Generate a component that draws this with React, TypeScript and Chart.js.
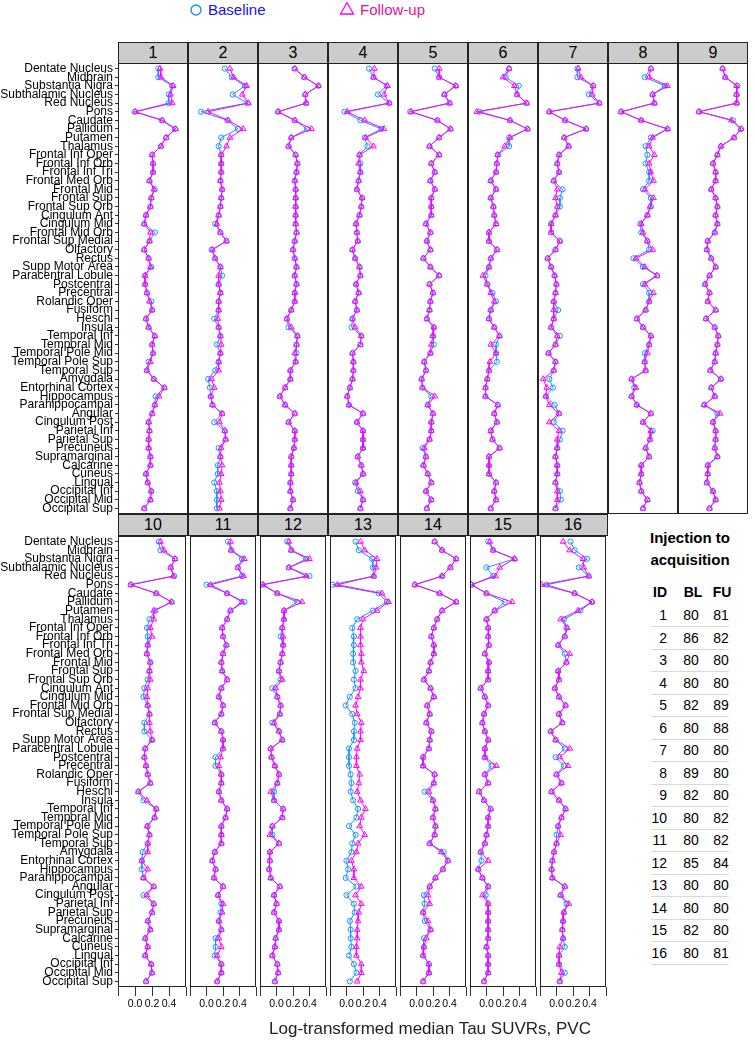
import React, { useEffect, useRef } from 'react';
import { Chart, registerables } from 'chart.js';
Chart.register(...registerables);

const regions = [
  'Dentate Nucleus', 'Midbrain', 'Substantia Nigra', 'Subthalamic Nucleus', 'Red Nucleus', 'Pons', 'Caudate',
  'Pallidum', 'Putamen', 'Thalamus', 'Frontal Inf Oper', 'Frontal Inf Orb', 'Frontal Inf Tri', 'Frontal Med Orb',
  'Frontal Mid', 'Frontal Sup', 'Frontal Sup Orb', 'Cingulum Ant', 'Cingulum Mid', 'Frontal Mid Orb',
  'Frontal Sup Medial', 'Olfactory', 'Rectus', 'Supp Motor Area', 'Paracentral Lobule', 'Postcentral',
  'Precentral', 'Rolandic Oper', 'Fusiform', 'Heschl', 'Insula', 'Temporal Inf', 'Temporal Mid',
  'Temporal Pole Mid', 'Temporal Pole Sup', 'Temporal Sup', 'Amygdala', 'Entorhinal Cortex', 'Hippocampus',
  'Parahippocampal', 'Angular', 'Cingulum Post', 'Parietal Inf', 'Parietal Sup', 'Precuneus', 'Supramarginal',
  'Calcarine', 'Cuneus', 'Lingual', 'Occipital Inf', 'Occipital Mid', 'Occipital Sup',
];

const panelIds = ['1', '2', '3', '4', '5', '6', '7', '8', '9', '10', '11', '12', '13', '14', '15', '16'];

const baseline1 = [0.26,0.26,0.42,0.38,0.38,-0.01,0.30,0.45,0.35,0.29, 0.19,0.20,0.20,0.16,0.22,0.18,0.17,0.12,0.10,0.22, 0.16,0.10,0.15,0.18,0.11,0.11,0.13,0.18,0.19,0.12, 0.15,0.22,0.19,0.20,0.15,0.13,0.21,0.33,0.23,0.22, 0.19,0.15,0.16,0.15,0.15,0.17,0.17,0.12,0.14,0.18, 0.17,0.10];
const followup1 = [0.28,0.29,0.43,0.40,0.42,0.00,0.31,0.46,0.35,0.29, 0.19,0.20,0.20,0.16,0.21,0.18,0.17,0.12,0.10,0.17, 0.16,0.10,0.15,0.17,0.11,0.11,0.13,0.16,0.19,0.12, 0.15,0.22,0.19,0.20,0.17,0.13,0.21,0.33,0.27,0.22, 0.19,0.15,0.16,0.15,0.15,0.17,0.17,0.12,0.14,0.18, 0.17,0.10];
const baseline2 = [0.22,0.30,0.45,0.31,0.48,-0.05,0.25,0.37,0.18,0.15, 0.18,0.18,0.18,0.17,0.19,0.18,0.17,0.15,0.11,0.17, 0.24,0.07,0.11,0.17,0.19,0.15,0.17,0.15,0.15,0.10, 0.15,0.17,0.13,0.17,0.15,0.11,0.03,0.05,0.06,0.08, 0.19,0.10,0.22,0.23,0.15,0.17,0.14,0.14,0.10,0.13, 0.13,0.13];
const followup2 = [0.28,0.32,0.47,0.42,0.49,0.03,0.26,0.43,0.28,0.24, 0.18,0.18,0.18,0.17,0.19,0.18,0.17,0.15,0.13,0.17, 0.24,0.08,0.11,0.17,0.15,0.15,0.17,0.15,0.15,0.14, 0.15,0.17,0.18,0.17,0.15,0.15,0.07,0.10,0.06,0.08, 0.19,0.16,0.22,0.23,0.18,0.17,0.19,0.18,0.16,0.17, 0.18,0.16];
const baseline3 = [0.22,0.33,0.49,0.34,0.35,0.03,0.22,0.36,0.18,0.15, 0.23,0.25,0.24,0.22,0.23,0.23,0.23,0.23,0.23,0.24, 0.22,0.20,0.22,0.24,0.22,0.24,0.22,0.22,0.18,0.13, 0.15,0.25,0.24,0.24,0.23,0.17,0.17,0.11,0.05,0.11, 0.22,0.15,0.22,0.22,0.21,0.18,0.18,0.18,0.17,0.17, 0.20,0.17];
const followup3 = [0.22,0.33,0.49,0.34,0.35,0.03,0.22,0.41,0.18,0.15, 0.23,0.25,0.24,0.22,0.23,0.23,0.23,0.23,0.23,0.24, 0.22,0.20,0.22,0.24,0.22,0.24,0.22,0.22,0.18,0.13, 0.18,0.25,0.24,0.22,0.23,0.17,0.17,0.11,0.05,0.11, 0.22,0.15,0.22,0.22,0.21,0.18,0.18,0.18,0.17,0.17, 0.20,0.17];
const baseline4 = [0.27,0.32,0.47,0.37,0.50,-0.01,0.17,0.41,0.22,0.25, 0.16,0.17,0.17,0.15,0.13,0.19,0.18,0.16,0.12,0.13, 0.14,0.08,0.11,0.16,0.17,0.12,0.15,0.11,0.13,0.08, 0.07,0.18,0.17,0.08,0.09,0.09,0.08,0.05,0.02,0.04, 0.20,0.13,0.20,0.20,0.20,0.14,0.18,0.20,0.11,0.14, 0.20,0.17];
const followup4 = [0.33,0.32,0.48,0.44,0.50,0.02,0.22,0.44,0.23,0.32, 0.16,0.15,0.17,0.15,0.13,0.19,0.18,0.16,0.12,0.13, 0.14,0.08,0.11,0.16,0.17,0.12,0.15,0.11,0.13,0.08, 0.11,0.18,0.17,0.08,0.09,0.09,0.08,0.05,0.02,0.04, 0.20,0.13,0.20,0.20,0.20,0.14,0.18,0.20,0.12,0.17, 0.20,0.17];
const baseline5 = [0.22,0.27,0.46,0.33,0.39,-0.06,0.25,0.40,0.27,0.16, 0.27,0.18,0.22,0.17,0.22,0.18,0.18,0.18,0.12,0.17, 0.13,0.17,0.09,0.17,0.27,0.16,0.20,0.17,0.16,0.13, 0.21,0.20,0.21,0.17,0.10,0.12,0.07,0.08,0.18,0.14, 0.20,0.18,0.18,0.16,0.08,0.12,0.09,0.14,0.18,0.12, 0.18,0.13];
const followup5 = [0.27,0.27,0.46,0.33,0.39,-0.05,0.25,0.40,0.27,0.16, 0.27,0.18,0.22,0.17,0.22,0.18,0.18,0.18,0.12,0.17, 0.13,0.17,0.09,0.17,0.27,0.16,0.20,0.17,0.16,0.13, 0.21,0.20,0.18,0.17,0.10,0.12,0.07,0.08,0.22,0.14, 0.20,0.18,0.18,0.16,0.10,0.12,0.09,0.14,0.18,0.12, 0.18,0.13];
const baseline6 = [0.27,0.23,0.38,0.36,0.47,-0.07,0.28,0.48,0.27,0.27, 0.14,0.13,0.12,0.06,0.12,0.06,0.09,0.10,0.12,0.04, 0.04,0.13,0.06,0.04,0.00,0.02,0.08,0.12,0.06,0.04, 0.10,0.16,0.12,0.12,0.13,0.04,0.02,0.00,0.00,0.14, 0.10,0.13,0.06,0.08,0.16,0.04,0.04,0.04,0.12,0.10, 0.12,0.06];
const followup6 = [0.27,0.20,0.33,0.36,0.47,-0.10,0.28,0.48,0.28,0.22, 0.14,0.13,0.12,0.06,0.12,0.06,0.09,0.10,0.12,0.04, 0.04,0.13,0.06,0.04,-0.03,0.02,0.06,0.10,0.06,0.04, 0.10,0.16,0.06,0.12,0.05,0.04,0.02,0.00,0.00,0.14, 0.10,0.13,0.06,0.08,0.16,0.04,0.04,0.04,0.12,0.10, 0.12,0.06];
const baseline7 = [0.25,0.25,0.43,0.38,0.50,-0.07,0.11,0.35,0.10,0.15, 0.04,0.02,0.04,-0.02,0.08,0.05,0.05,0.00,-0.05,-0.05, 0.05,0.00,-0.09,-0.05,-0.01,0.01,0.00,-0.02,0.03,-0.02, -0.05,0.05,0.00,-0.08,0.00,-0.02,-0.07,-0.03,-0.11,-0.01, 0.04,-0.02,0.08,0.05,0.02,0.00,0.02,0.02,0.00,0.05, 0.06,0.00];
const followup7 = [0.26,0.29,0.43,0.42,0.50,-0.07,0.11,0.35,0.10,0.15, 0.04,0.02,0.04,-0.02,0.02,0.00,0.02,0.00,-0.05,-0.05, 0.05,0.00,-0.09,-0.05,-0.01,0.01,0.00,-0.02,-0.02,-0.02, -0.05,0.02,0.00,-0.08,0.00,-0.02,-0.14,-0.10,-0.11,-0.07, 0.04,-0.07,0.04,0.02,0.02,0.00,0.02,0.02,0.00,0.02, 0.02,0.00];
const baseline8 = [0.29,0.22,0.45,0.31,0.33,-0.05,0.18,0.48,0.29,0.23, 0.25,0.23,0.27,0.27,0.20,0.29,0.29,0.25,0.17,0.18, 0.25,0.27,0.09,0.20,0.36,0.20,0.27,0.27,0.23,0.13, 0.20,0.29,0.27,0.22,0.22,0.23,0.07,0.10,0.07,0.13, 0.29,0.20,0.31,0.28,0.23,0.27,0.18,0.18,0.16,0.18, 0.25,0.20];
const followup8 = [0.29,0.27,0.48,0.31,0.33,-0.05,0.18,0.48,0.31,0.27, 0.33,0.27,0.29,0.32,0.22,0.32,0.28,0.25,0.18,0.20, 0.25,0.31,0.12,0.22,0.36,0.22,0.32,0.27,0.23,0.13, 0.20,0.29,0.27,0.25,0.22,0.23,0.07,0.12,0.07,0.13, 0.29,0.20,0.29,0.28,0.23,0.27,0.18,0.18,0.16,0.18, 0.25,0.20];
const baseline9 = [0.31,0.34,0.48,0.47,0.47,0.04,0.43,0.52,0.44,0.29, 0.25,0.20,0.23,0.23,0.18,0.23,0.25,0.23,0.25,0.22, 0.14,0.13,0.18,0.23,0.16,0.11,0.16,0.14,0.23,0.12, 0.22,0.26,0.25,0.23,0.22,0.17,0.29,0.18,0.22,0.10, 0.25,0.20,0.23,0.23,0.22,0.25,0.14,0.14,0.13,0.20, 0.23,0.16];
const followup9 = [0.31,0.34,0.47,0.47,0.47,0.04,0.41,0.52,0.44,0.29, 0.25,0.20,0.23,0.23,0.18,0.23,0.25,0.23,0.25,0.22, 0.14,0.13,0.18,0.23,0.16,0.11,0.16,0.14,0.23,0.12, 0.22,0.26,0.25,0.23,0.22,0.17,0.29,0.18,0.22,0.10, 0.28,0.20,0.23,0.23,0.22,0.25,0.14,0.14,0.13,0.20, 0.23,0.16];
const baseline10 = [0.28,0.30,0.47,0.42,0.46,-0.05,0.25,0.43,0.24,0.17, 0.14,0.15,0.15,0.14,0.18,0.17,0.15,0.11,0.10,0.15, 0.17,0.11,0.11,0.20,0.12,0.11,0.13,0.15,0.18,0.04, 0.10,0.25,0.23,0.15,0.17,0.15,0.09,0.08,0.08,0.10, 0.22,0.10,0.22,0.20,0.15,0.18,0.12,0.15,0.12,0.19, 0.20,0.13];
const followup10 = [0.30,0.34,0.47,0.42,0.45,-0.05,0.25,0.43,0.22,0.22, 0.18,0.20,0.15,0.14,0.18,0.17,0.18,0.15,0.14,0.15, 0.17,0.17,0.18,0.20,0.12,0.11,0.13,0.15,0.18,0.04, 0.14,0.25,0.23,0.14,0.17,0.15,0.15,0.08,0.15,0.10, 0.22,0.14,0.22,0.20,0.15,0.18,0.12,0.15,0.12,0.19, 0.20,0.13];
const baseline11 = [0.26,0.30,0.43,0.38,0.43,0.00,0.25,0.46,0.29,0.25, 0.19,0.20,0.24,0.20,0.18,0.19,0.25,0.18,0.15,0.20, 0.18,0.10,0.18,0.20,0.20,0.11,0.11,0.18,0.18,0.15, 0.18,0.25,0.23,0.18,0.18,0.18,0.10,0.07,0.11,0.09, 0.20,0.14,0.18,0.17,0.15,0.18,0.11,0.11,0.10,0.18, 0.18,0.13];
const followup11 = [0.29,0.30,0.46,0.38,0.45,0.05,0.25,0.43,0.29,0.25, 0.19,0.20,0.24,0.20,0.18,0.19,0.25,0.18,0.15,0.20, 0.18,0.10,0.18,0.20,0.20,0.17,0.15,0.18,0.18,0.15, 0.18,0.25,0.23,0.18,0.18,0.18,0.10,0.07,0.11,0.09, 0.20,0.14,0.20,0.19,0.15,0.18,0.15,0.18,0.13,0.18, 0.18,0.13];
const baseline12 = [0.13,0.18,0.36,0.15,0.40,-0.18,0.01,0.25,0.09,0.09, 0.07,0.05,0.08,0.07,0.05,0.03,0.05,-0.05,0.01,0.05, 0.04,-0.05,0.03,0.07,-0.07,-0.06,-0.02,0.03,0.01,-0.03, -0.03,0.08,0.07,-0.05,-0.05,0.03,-0.08,-0.08,-0.09,-0.07, 0.04,-0.03,0.00,-0.03,0.03,0.03,-0.01,-0.02,-0.05,0.01, 0.02,-0.02];
const followup12 = [0.15,0.18,0.40,0.15,0.36,-0.16,0.01,0.31,0.09,0.09, 0.07,0.08,0.08,0.07,0.05,0.03,0.07,-0.01,0.01,0.05, 0.04,-0.03,0.03,0.07,-0.07,-0.06,-0.02,0.03,0.01,-0.07, -0.03,0.08,0.07,-0.05,-0.08,0.03,-0.08,-0.08,-0.09,-0.07, 0.04,-0.03,0.00,-0.03,0.03,0.03,-0.01,-0.02,-0.05,0.01, 0.02,-0.02];
const baseline13 = [0.11,0.15,0.31,0.32,0.33,-0.17,0.39,0.49,0.32,0.13, 0.07,0.09,0.09,0.08,0.08,0.11,0.09,0.11,0.04,-0.01, 0.07,0.10,0.09,0.09,0.03,0.03,0.03,0.05,0.06,0.05, 0.08,0.14,0.12,0.03,0.11,0.07,0.06,0.00,0.02,-0.01, 0.12,0.00,0.09,0.10,0.04,0.05,0.05,0.06,0.03,0.09, 0.12,0.04];
const followup13 = [0.17,0.22,0.37,0.36,0.33,-0.11,0.43,0.51,0.37,0.20, 0.17,0.17,0.17,0.18,0.18,0.21,0.17,0.17,0.14,0.11, 0.13,0.18,0.17,0.17,0.13,0.12,0.12,0.16,0.15,0.13, 0.17,0.23,0.18,0.16,0.22,0.14,0.12,0.06,0.09,0.09, 0.18,0.11,0.18,0.15,0.14,0.13,0.13,0.12,0.12,0.18, 0.18,0.13];
const baseline14 = [0.22,0.31,0.48,0.41,0.31,-0.02,0.28,0.48,0.31,0.25, 0.21,0.18,0.21,0.21,0.17,0.15,0.09,0.17,0.21,0.13, 0.16,0.12,0.18,0.16,0.15,0.08,0.08,0.22,0.21,0.10, 0.20,0.23,0.20,0.23,0.22,0.16,0.33,0.38,0.32,0.23, 0.16,0.09,0.10,0.08,0.10,0.17,0.09,0.09,0.08,0.15, 0.15,0.08];
const followup14 = [0.22,0.31,0.48,0.41,0.31,-0.02,0.28,0.48,0.31,0.25, 0.21,0.18,0.21,0.21,0.17,0.15,0.09,0.17,0.21,0.13, 0.16,0.12,0.18,0.16,0.15,0.08,0.08,0.22,0.21,0.15, 0.20,0.23,0.20,0.23,0.22,0.16,0.30,0.38,0.32,0.23, 0.16,0.14,0.16,0.08,0.14,0.17,0.12,0.09,0.08,0.15, 0.15,0.08];
const baseline15 = [0.02,0.08,0.34,0.00,0.08,-0.18,0.00,0.22,0.10,0.00, 0.02,0.02,0.03,-0.02,0.03,0.02,0.02,-0.07,-0.02,0.02, -0.03,-0.05,-0.02,0.02,-0.02,-0.02,0.06,-0.02,0.02,-0.09, -0.03,0.05,0.02,0.02,0.00,-0.02,-0.07,-0.06,-0.10,-0.05, 0.02,-0.01,0.02,0.02,0.02,0.02,0.02,0.00,0.02,0.02, 0.02,-0.03];
const followup15 = [0.04,0.08,0.34,0.16,0.11,-0.18,0.00,0.31,0.10,0.00, 0.02,0.02,0.03,-0.02,0.03,0.02,0.02,-0.07,-0.02,0.02, -0.03,-0.05,-0.02,0.02,-0.02,-0.02,0.12,-0.02,0.02,-0.09, -0.03,0.05,0.02,0.02,0.00,-0.02,-0.07,0.02,-0.10,-0.05, 0.02,-0.05,0.02,0.02,0.02,0.02,0.02,0.00,0.02,0.02, 0.02,-0.03];
const baseline16 = [0.17,0.22,0.37,0.27,0.39,-0.12,0.22,0.43,0.29,0.09, 0.12,0.10,0.02,0.10,0.12,0.02,0.03,-0.02,0.03,0.11, 0.03,0.07,-0.07,-0.01,0.10,-0.01,0.09,0.00,0.06,-0.06, 0.03,0.11,0.06,0.02,0.00,0.00,-0.03,-0.05,-0.06,-0.05, 0.10,0.05,0.12,0.09,0.08,0.07,0.08,0.10,0.03,0.03, 0.10,0.04];
const followup16 = [0.08,0.16,0.32,0.33,0.39,-0.18,0.22,0.43,0.26,0.05, 0.13,0.10,0.02,0.16,0.12,0.02,0.03,-0.02,0.03,0.11, 0.03,0.07,-0.07,-0.01,0.16,0.04,0.14,0.00,0.06,-0.06, 0.03,0.11,0.06,0.02,0.05,0.00,-0.03,-0.05,-0.06,-0.05, 0.10,0.05,0.15,0.09,0.08,0.07,0.08,0.04,0.03,0.03, 0.06,0.04];

const baselineSeries = [baseline1, baseline2, baseline3, baseline4, baseline5, baseline6, baseline7, baseline8,
  baseline9, baseline10, baseline11, baseline12, baseline13, baseline14, baseline15, baseline16];
const followupSeries = [followup1, followup2, followup3, followup4, followup5, followup6, followup7, followup8,
  followup9, followup10, followup11, followup12, followup13, followup14, followup15, followup16];

const xTicks = [-0.2, 0, 0.2, 0.4, 0.6];
const xTickLabels = ['', '0.0', '0.2', '0.4', ''];

const tableId = ['1', '2', '3', '4', '5', '6', '7', '8', '9', '10', '11', '12', '13', '14', '15', '16'];
const tableBL = ['80', '86', '80', '80', '82', '80', '80', '89', '82', '80', '80', '85', '80', '80', '82', '80'];
const tableFU = ['81', '82', '80', '80', '89', '88', '80', '80', '80', '82', '82', '84', '80', '80', '80', '81'];

const BLUE = '#1E90FF';
const MAG = '#FF00FF';
const FONT = '"Liberation Sans", Arial, sans-serif';

const PANEL_X0 = 118;
const PANEL_W = 70;
const PLOT_H = 451;
const ROW_TOPS = [63, 536];
const STRIP_TOPS = [42, 514];
const X_AXIS_H = 30;
const PAD = 12;

const framePlugin = {
  id: 'frame',
  afterDraw(chart: any) {
    const { ctx, chartArea: a } = chart;
    ctx.save();
    ctx.strokeStyle = '#222';
    ctx.lineWidth = 1;
    ctx.strokeRect(a.left + 0.5, a.top + 0.5, a.right - a.left - 1, a.bottom - a.top - 1);
    ctx.restore();
  },
};

function Panel({ idx }: { idx: number }) {
  const ref = useRef<HTMLCanvasElement>(null);
  const bottomRow = idx >= 9;
  const col = bottomRow ? idx - 9 : idx;
  const showY = col === 0;
  const px = PANEL_X0 + col * PANEL_W;
  const left = showY ? 0 : px;
  const width = showY ? px + PANEL_W : PANEL_W;
  const padV = showY ? PAD : 0;
  const top = ROW_TOPS[bottomRow ? 1 : 0] - padV;
  const height = PLOT_H + (bottomRow ? X_AXIS_H : 0) + 2 * padV;

  useEffect(() => {
    const base = baselineSeries[idx];
    const fu = followupSeries[idx];
    const chart = new Chart(ref.current as HTMLCanvasElement, {
      type: 'scatter',
      data: {
        datasets: [
          {
            label: 'Follow-up',
            data: fu.map((v, i) => ({ x: v, y: i })),
            showLine: true,
            borderColor: MAG,
            borderWidth: 1,
            pointStyle: 'triangle',
            pointRadius: 3.3,
            pointBorderColor: MAG,
            pointBackgroundColor: 'rgba(0,0,0,0)',
            pointBorderWidth: 1,
          },
          {
            label: 'Baseline',
            data: base.map((v, i) => ({ x: v, y: i })),
            showLine: true,
            borderColor: BLUE,
            borderWidth: 1,
            pointStyle: 'circle',
            pointRadius: 2.6,
            pointBorderColor: BLUE,
            pointBackgroundColor: 'rgba(0,0,0,0)',
            pointBorderWidth: 1,
          },
        ],
      },
      options: {
        animation: false,
        responsive: false,
        maintainAspectRatio: false,
        layout: { padding: { top: padV, bottom: padV, left: 0, right: 0 }, autoPadding: false },
        plugins: { legend: { display: false }, tooltip: { enabled: false } },
        scales: {
          x: {
            type: 'linear',
            min: -0.2,
            max: 0.6,
            display: bottomRow,
            afterBuildTicks: (axis: any) => {
              axis.ticks = xTicks.map((v) => ({ value: v }));
            },
            afterFit: (s: any) => {
              if (bottomRow) s.height = X_AXIS_H;
            },
            grid: { drawOnChartArea: false, drawTicks: true, tickLength: 9, color: '#333' },
            border: { display: false },
            ticks: {
              autoSkip: false,
              maxRotation: 0,
              padding: 2,
              color: '#000',
              font: { family: FONT, size: 10.5 },
              callback: (_v: any, i: number) => xTickLabels[i],
            },
          },
          y: {
            type: 'linear',
            reverse: true,
            min: -0.65,
            max: 51.65,
            display: showY,
            afterBuildTicks: (axis: any) => {
              axis.ticks = regions.map((_, i) => ({ value: i }));
            },
            afterFit: (s: any) => {
              if (showY) s.width = px;
            },
            grid: { drawOnChartArea: false, drawTicks: true, tickLength: 3, color: '#333' },
            border: { display: false },
            ticks: {
              autoSkip: false,
              padding: 2,
              color: '#000',
              font: { family: FONT, size: 12 },
              callback: (_v: any, i: number) => regions[i],
            },
          },
        },
      },
      plugins: [framePlugin],
    } as any);
    return () => chart.destroy();
  }, [idx]);

  return (
    <canvas
      ref={ref}
      width={width}
      height={height}
      style={{ position: 'absolute', left, top, width, height }}
    />
  );
}

function Strip({ idx }: { idx: number }) {
  const bottomRow = idx >= 9;
  const col = bottomRow ? idx - 9 : idx;
  return (
    <div
      style={{
        position: 'absolute',
        left: PANEL_X0 + col * PANEL_W,
        top: STRIP_TOPS[bottomRow ? 1 : 0],
        width: PANEL_W,
        height: 22,
        boxSizing: 'border-box',
        background: '#CCCCCC',
        border: '1px solid #222',
        fontFamily: FONT,
        fontSize: 16,
        lineHeight: '20px',
        textAlign: 'center',
        color: '#000',
      }}
    >
      {panelIds[idx]}
    </div>
  );
}

export default function App() {
  return (
    <div style={{ position: 'absolute', left: 0, top: 0, width: 755, height: 1050, background: '#fff', fontFamily: FONT }}>
      <svg style={{ position: 'absolute', left: 189, top: 3 }} width={14} height={14}>
        <circle cx={7} cy={7} r={5} fill="none" stroke={BLUE} strokeWidth={1.4} />
      </svg>
      <div style={{ position: 'absolute', left: 208, top: 1, fontSize: 15, color: '#1515E0', lineHeight: '18px' }}>Baseline</div>
      <svg style={{ position: 'absolute', left: 339, top: 1 }} width={16} height={15}>
        <polygon points="8,1.5 14.5,13 1.5,13" fill="none" stroke={MAG} strokeWidth={1.3} />
      </svg>
      <div style={{ position: 'absolute', left: 360, top: 1, fontSize: 15, color: '#E0159A', lineHeight: '18px' }}>Follow-up</div>

      {panelIds.map((_, i) => (
        <Panel key={'p' + i} idx={i} />
      ))}
      {panelIds.map((_, i) => (
        <Strip key={'s' + i} idx={i} />
      ))}

      <div style={{ position: 'absolute', left: 620, top: 527, width: 140, textAlign: 'center', fontWeight: 'bold', fontSize: 15, lineHeight: '21.5px', color: '#000' }}>
        Injection to<br />acquisition
      </div>
      <div style={{ position: 'absolute', left: 640, top: 583, width: 27, textAlign: 'right', fontWeight: 'bold', fontSize: 14, lineHeight: '18px' }}>ID</div>
      <div style={{ position: 'absolute', left: 678, top: 583, width: 30, textAlign: 'center', fontWeight: 'bold', fontSize: 14, lineHeight: '18px' }}>BL</div>
      <div style={{ position: 'absolute', left: 707, top: 583, width: 30, textAlign: 'center', fontWeight: 'bold', fontSize: 14, lineHeight: '18px' }}>FU</div>
      {tableId.map((id, i) => (
        <React.Fragment key={'t' + i}>
          <div style={{ position: 'absolute', left: 640, top: 606 + i * 22.5, width: 27, textAlign: 'right', fontSize: 14, lineHeight: '18px' }}>{id}</div>
          <div style={{ position: 'absolute', left: 676, top: 606 + i * 22.5, width: 30, textAlign: 'center', fontSize: 14, lineHeight: '18px' }}>{tableBL[i]}</div>
          <div style={{ position: 'absolute', left: 706, top: 606 + i * 22.5, width: 30, textAlign: 'center', fontSize: 14, lineHeight: '18px' }}>{tableFU[i]}</div>
          <div style={{ position: 'absolute', left: 651, top: 626 + i * 22.5, width: 78, height: 1, background: '#D8D8D8' }} />
        </React.Fragment>
      ))}

      <div style={{ position: 'absolute', left: 110, top: 1019, width: 640, textAlign: 'center', fontSize: 17, color: '#222' }}>
        Log-transformed median Tau SUVRs, PVC
      </div>
    </div>
  );
}
